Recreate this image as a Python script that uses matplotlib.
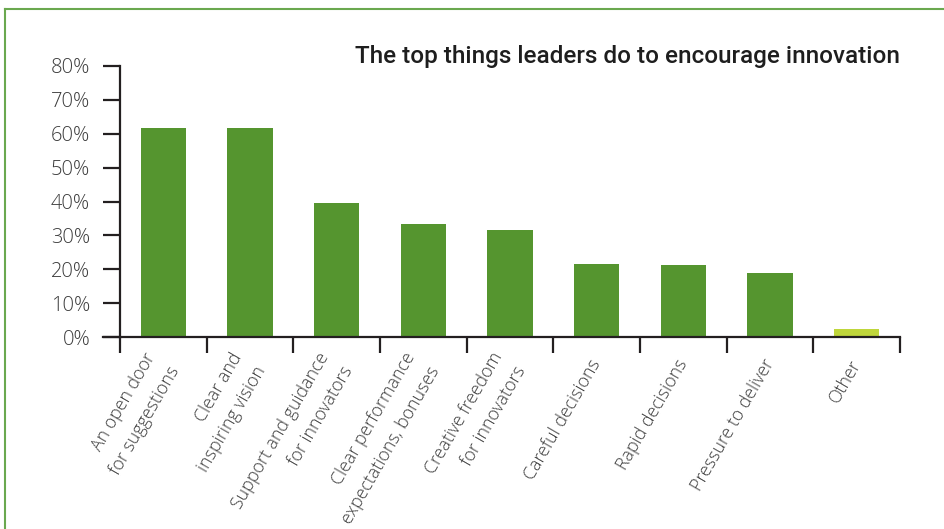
import matplotlib
matplotlib.use("Agg")
import matplotlib.pyplot as plt
from matplotlib.ticker import FixedLocator, PercentFormatter
from matplotlib.lines import Line2D

categories = [
    "An open door\nfor suggestions",
    "Clear and\ninspiring vision",
    "Support and guidance\nfor innovators",
    "Clear performance\nexpectations, bonuses",
    "Creative freedom\nfor innovators",
    "Careful decisions",
    "Rapid decisions",
    "Pressure to deliver",
    "Other",
]
values = [61.6, 61.6, 39.6, 33.4, 31.6, 21.6, 21.3, 18.9, 2.4]
yticks = [0, 10, 20, 30, 40, 50, 60, 70, 80]
title = "The top things leaders do to encourage innovation"

green = "#55952f"
lime = "#bfd63b"
colors = [green] * 8 + [lime]
dark = "#231f20"
txt = "#3c3c3c"

W, H = 944, 529
fig = plt.figure(figsize=(W / 100, H / 100), dpi=100)
ax = fig.add_axes([120 / W, 1 - 337.3 / H, 780 / W, (337.3 - 65.7) / H])

x = list(range(len(categories)))
ax.bar(x, values, width=0.52, color=colors, zorder=2)

ax.set_xlim(-0.5, len(categories) - 0.5)
ax.set_ylim(0, 80)

for s in ["top", "right"]:
    ax.spines[s].set_visible(False)
for s in ["left", "bottom"]:
    ax.spines[s].set_color(dark)
    ax.spines[s].set_linewidth(1.6)

ax.set_yticks(yticks)
ax.yaxis.set_major_formatter(PercentFormatter(decimals=0))
ax.tick_params(axis="y", length=12.5, width=1.6, color=dark, pad=9,
               labelsize=14.5, labelcolor=txt)
for lab in ax.get_yticklabels():
    lab.set_fontfamily("Open Sans")
    lab.set_fontweight("light")

# category boundary ticks
ax.xaxis.set_minor_locator(FixedLocator([i - 0.5 for i in range(len(categories) + 1)]))
ax.tick_params(axis="x", which="minor", length=11.5, width=1.6, color=dark)
ax.set_xticks(x)
ax.set_xticklabels(categories)
ax.tick_params(axis="x", which="major", length=0, pad=17, labelsize=12.8, labelcolor=txt)
for lab in ax.get_xticklabels():
    lab.set_rotation(60)
    lab.set_ha("right")
    lab.set_va("center")
    lab.set_rotation_mode("anchor")
    lab.set_multialignment("right")
    lab.set_fontfamily("Open Sans")
    lab.set_fontweight("light")
    lab.set_linespacing(1.7)

# extend the 0% baseline left like the reference
ax.plot([-0.5 - 17 / 86.7, -0.5], [0, 0], color=dark, lw=1.6, clip_on=False, zorder=3)

fig.text(900 / W, 1 - 57 / H, title, ha="right", va="center", fontsize=17.5,
         color="#1e1e1e", fontfamily="Roboto", fontweight="medium")

# green frame (top and left edges visible)
fig.add_artist(Line2D([5 / W, 1], [1 - 8.5 / H, 1 - 8.5 / H], color="#6aa84f", lw=1.5,
                      transform=fig.transFigure))
fig.add_artist(Line2D([5 / W, 5 / W], [0, 1 - 8.5 / H], color="#6aa84f", lw=1.5,
                      transform=fig.transFigure))

fig.savefig("out.png", dpi=100)
